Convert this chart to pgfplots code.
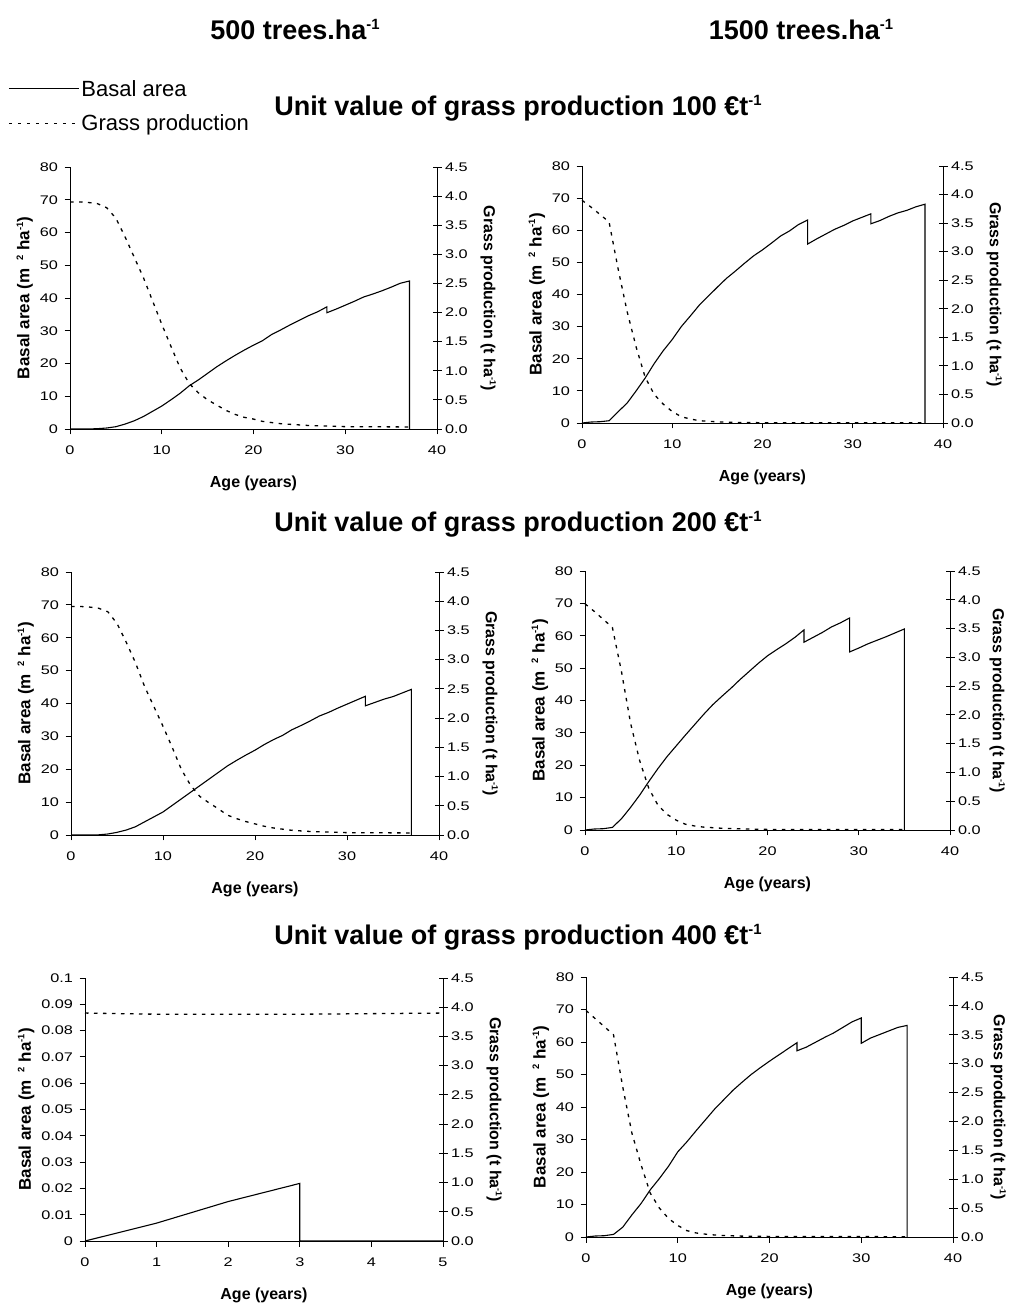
\documentclass[border=0pt]{standalone}
\usepackage{pgfplots}
\pgfplotsset{compat=1.18}
\usepackage{graphicx}
\usepackage{fontspec}
\setmainfont{Liberation Sans}
\newfontfamily\tickfont[FakeStretch=1.3]{Liberation Sans}
\newcommand\sups[1]{\raisebox{0.38em}{\scalebox{0.55}{#1}}}

\pgfplotsset{
  common/.style={scale only axis, clip=false, xmin=0, xmax=40,
    axis line style={-, line width=0.8pt, black},
    tick style={line width=0.8pt, black},
    tick label style={font=\tickfont\fontsize{12.5}{12.5}\selectfont},
    /pgf/number format/assume math mode=true,
  },
  leftax/.style={common, axis x line=bottom, axis y line=left, axis line style={-},
    tick align=outside, major tick length=5.5pt,
    ymin=0, ymax=80, xtick={0,10,20,30,40}, ytick={0,10,...,80},
    xticklabel style={yshift=-8pt}, yticklabel style={xshift=-3pt},
    xlabel={Age (years)}, xlabel style={font=\bfseries\fontsize{16}{16}\selectfont, yshift=-14pt},
    ylabel={Basal area (m\hspace{0.45em}\sups{2}\hspace{0.3em}ha\sups{-1})},
    ylabel style={font=\bfseries\fontsize{17}{17}\selectfont, yshift=0pt},
  },
  rightax/.style={common, axis x line=none, axis y line=right, axis line style={-},
    tick align=center, major tick length=9pt,
    ymin=0, ymax=4.5, ytick={0,0.5,...,4.5},
    yticklabel style={/pgf/number format/.cd, fixed, fixed zerofill, precision=1},
    ylabel={Grass production (t ha\sups{-1})},
    ylabel style={font=\bfseries\fontsize{16}{16}\selectfont, rotate=180, yshift=6pt},
  },
  basal/.style={black, line width=1.1pt},
  grass/.style={black, line width=1.3pt, dash pattern=on 3.5pt off 5.5pt},
}

\begin{document}
\begin{tikzpicture}
\useasboundingbox (0,0) rectangle (1009pt,1306pt);

% ---------- titles ----------
\node[anchor=base, font=\bfseries\fontsize{27}{27}\selectfont] at (295pt,1266pt) {500 trees.ha\sups{-1}};
\node[anchor=base, font=\bfseries\fontsize{27}{27}\selectfont] at (801pt,1266pt) {1500 trees.ha\sups{-1}};
\node[anchor=base, font=\bfseries\fontsize{27}{27}\selectfont] at (518pt,1190pt) {Unit value of grass production 100 \texteuro t\sups{-1}};
\node[anchor=base, font=\bfseries\fontsize{27}{27}\selectfont] at (518pt,774pt) {Unit value of grass production 200 \texteuro t\sups{-1}};
\node[anchor=base, font=\bfseries\fontsize{27}{27}\selectfont] at (518pt,361pt) {Unit value of grass production 400 \texteuro t\sups{-1}};

% ================= TL: 500 trees, 100 =================
\begin{axis}[leftax, width=367pt, height=262pt, at={(70pt,877pt)}, anchor=south west,
  legend style={draw=none, fill=none, at={(-0.169,1.34)}, anchor=north west,
    font=\fontsize{22}{22}\selectfont, row sep=13pt, inner sep=0pt},
  legend cell align=left,
  legend image code/.code={\draw[#1] (0pt,0pt) -- (70pt,0pt);}]
\addplot[basal] coordinates {(0,0) (1,0) (2,0) (3,0.1) (4,0.3) (5,0.7) (6,1.5) (7,2.5) (8,3.8) (9,5.4) (10,7) (11,8.9) (12,10.9) (13,13.2) (14,15) (15,17) (16,19) (17,20.8) (18,22.5) (19,24.1) (20,25.6) (21,27) (22,28.9) (23,30.3) (24,31.8) (25,33.2) (26,34.6) (27,35.8) (28,37.3) (28,35.5) (29,36.6) (30,37.8) (31,39) (32,40.3) (33,41.2) (34,42.2) (35,43.3) (36,44.5) (37,45.2) (37,0)};
\addlegendentry{Basal area}
\addlegendimage{grass}
\addlegendentry{Grass production}
\end{axis}
\begin{axis}[rightax, width=367pt, height=262pt, at={(70pt,877pt)}, anchor=south west]
\addplot[grass] coordinates {(0,3.9) (1,3.9) (2,3.89) (3,3.87) (4,3.8) (5,3.62) (6,3.3) (7,2.95) (8,2.6) (9,2.2) (10,1.8) (11,1.42) (12,1.05) (13,0.78) (14,0.62) (15,0.5) (16,0.41) (17,0.32) (18,0.25) (19,0.2) (20,0.17) (21,0.13) (22,0.11) (23,0.09) (24,0.08) (25,0.07) (26,0.06) (28,0.05) (30,0.04) (37,0.035)};
\end{axis}

% ================= TR: 1500 trees, 100 =================
\begin{axis}[leftax, width=361pt, height=257pt, at={(582pt,883pt)}, anchor=south west]
\addplot[basal] coordinates {(0,0) (1,0.3) (2,0.4) (3,0.7) (4,3.5) (5,6.2) (6,10) (7,14) (8,18.5) (9,22.5) (10,26) (11,30) (12,33.3) (13,36.7) (14,39.5) (15,42.3) (16,45) (17,47.3) (18,49.7) (19,52) (20,53.9) (21,56) (22,58.2) (23,59.8) (24,61.8) (25,63.2) (25,55.7) (26,57.3) (27,58.8) (28,60.3) (29,61.5) (30,62.9) (31,64) (32,65.1) (32,62) (33,63) (34,64.3) (35,65.4) (36,66.2) (37,67.3) (38,68.1) (38,0)};
\end{axis}
\begin{axis}[rightax, width=361pt, height=257pt, at={(582pt,883pt)}, anchor=south west]
\addplot[grass] coordinates {(0,3.9) (1,3.78) (2,3.65) (3,3.52) (4,2.7) (5,1.95) (6,1.33) (7,0.8) (8,0.5) (9,0.33) (10,0.2) (11,0.11) (12,0.07) (13,0.04) (14,0.03) (15,0.02) (17,0.01) (20,0.005) (38,0.005)};
\end{axis}

% ================= ML: 500 trees, 200 =================
\begin{axis}[leftax, width=368pt, height=263pt, at={(71pt,471pt)}, anchor=south west]
\addplot[basal] coordinates {(0,0) (1,0) (2,0) (3,0.05) (4,0.3) (5,0.8) (6,1.5) (7,2.5) (8,4) (9,5.5) (10,7) (11,9) (12,11) (13,13) (14,15) (15,17) (16,19) (17,21) (18,22.7) (19,24.3) (20,25.8) (21,27.5) (22,29) (23,30.3) (24,32) (25,33.3) (26,34.7) (27,36.2) (28,37.3) (29,38.6) (30,39.8) (31,41) (32,42.2) (32,39.3) (33,40.3) (34,41.3) (35,42.1) (36,43.2) (37,44.3) (37,0)};
\end{axis}
\begin{axis}[rightax, width=368pt, height=263pt, at={(71pt,471pt)}, anchor=south west]
\addplot[grass] coordinates {(0,3.91) (1,3.91) (2,3.9) (3,3.88) (4,3.82) (5,3.62) (6,3.3) (7,2.95) (8,2.54) (9,2.2) (10,1.86) (11,1.5) (12,1.12) (13,0.85) (14,0.66) (15,0.55) (16,0.45) (17,0.34) (18,0.28) (19,0.23) (20,0.19) (21,0.15) (22,0.12) (23,0.1) (24,0.08) (25,0.07) (26,0.06) (28,0.05) (30,0.04) (37,0.035)};
\end{axis}

% ================= MR: 1500 trees, 200 =================
\begin{axis}[leftax, width=365pt, height=259pt, at={(585pt,476pt)}, anchor=south west]
\addplot[basal] coordinates {(0,0) (1,0.3) (2,0.4) (3,0.8) (4,3.5) (5,7) (6,10.8) (7,15) (8,19) (9,22.7) (10,26) (11,29.3) (12,32.5) (13,35.7) (14,38.7) (15,41.3) (16,43.8) (17,46.5) (18,49) (19,51.5) (20,53.8) (21,55.7) (22,57.5) (23,59.5) (24,61.8) (24,58) (25,59.5) (26,61) (27,62.7) (28,64) (29,65.5) (29,55) (30,56.2) (31,57.5) (32,58.6) (33,59.7) (34,60.9) (35,62.1) (35,0)};
\end{axis}
\begin{axis}[rightax, width=365pt, height=259pt, at={(585pt,476pt)}, anchor=south west,
  ylabel style={yshift=-4pt}]
\addplot[grass] coordinates {(0,3.93) (1,3.8) (2,3.66) (3,3.52) (4,2.75) (5,1.85) (6,1.2) (7,0.72) (8,0.43) (9,0.27) (10,0.17) (11,0.1) (12,0.07) (13,0.05) (14,0.04) (15,0.03) (17,0.02) (20,0.01) (35,0.01)};
\end{axis}

% ================= BL: 500 trees, 400 =================
\begin{axis}[leftax, width=358pt, height=263pt, at={(85pt,65pt)}, anchor=south west,
  xmax=5, xtick={0,1,2,3,4,5}, ymax=0.1,
  ytick={0,0.01,0.02,0.03,0.04,0.05,0.06,0.07,0.08,0.09,0.1},
  scaled y ticks=false,
  yticklabel style={/pgf/number format/.cd, fixed, precision=2}]
\addplot[basal] coordinates {(0,0) (1,0.0068) (2,0.015) (3,0.0219) (3,0) (4,0) (5,0)};
\end{axis}
\begin{axis}[rightax, width=358pt, height=263pt, at={(85pt,65pt)}, anchor=south west, xmax=5]
\addplot[grass] coordinates {(0,3.9) (1,3.88) (2,3.88) (3,3.88) (4,3.89) (5,3.9)};
\end{axis}

% ================= BR: 1500 trees, 400 =================
\begin{axis}[leftax, width=367pt, height=260pt, at={(586pt,69pt)}, anchor=south west]
\addplot[basal] coordinates {(0,0) (1,0.3) (2,0.4) (3,0.8) (4,3) (5,6.8) (6,10.3) (7,14.5) (8,18) (9,21.8) (10,26.2) (11,29.3) (12,32.7) (13,36) (14,39.3) (15,42.2) (16,45.1) (17,47.6) (18,50) (19,52.1) (20,54.1) (21,56) (22,57.9) (23,59.8) (23,57.3) (24,58.4) (25,59.9) (26,61.4) (27,62.8) (28,64.5) (29,66.2) (30,67.4) (30,59.6) (31,61.2) (32,62.3) (33,63.4) (34,64.5) (35,65.1) (35,0)};
\end{axis}
\begin{axis}[rightax, width=367pt, height=260pt, at={(586pt,69pt)}, anchor=south west,
  ylabel style={yshift=-6pt}]
\addplot[grass] coordinates {(0,3.92) (1,3.78) (2,3.64) (3,3.5) (4,2.6) (5,1.8) (6,1.25) (7,0.76) (8,0.5) (9,0.32) (10,0.2) (11,0.11) (12,0.07) (13,0.05) (14,0.035) (15,0.025) (17,0.015) (20,0.01) (35,0.005)};
\end{axis}
\end{tikzpicture}
\end{document}
